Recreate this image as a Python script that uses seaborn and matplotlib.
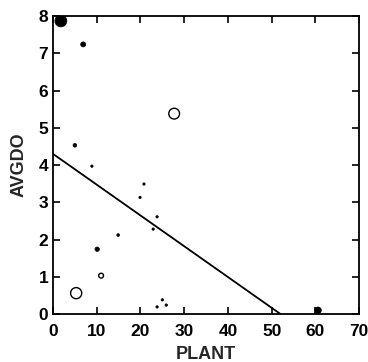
import matplotlib
matplotlib.use("Agg")
import matplotlib.pyplot as plt
import seaborn as sns
import pandas as pd
import numpy as np

sns.set_style("ticks")
plt.rcParams['font.family'] = ['Liberation Sans', 'DejaVu Sans']

# data
plant = [1.8, 6.9, 27.7, 5.0, 8.9, 20.8, 19.9, 23.8, 22.9, 14.9, 10.1, 11.0, 5.3, 23.8, 25.0, 25.9, 60.6]
avgdo = [7.87, 7.24, 5.38, 4.53, 3.97, 3.49, 3.13, 2.61, 2.28, 2.12, 1.74, 1.03, 0.56, 0.19, 0.38, 0.24, 0.10]
weight = [74, 13, 60, 7, 3, 3, 3, 3, 3, 4, 10, 12, 64, 3, 3, 3, 22]
filled = [True, True, False, True, True, True, True, True, True, True, True, False, False, True, True, True, True]

line_x = [0, 52]
line_y = [4.3, 0.0]

xticks = [0, 10, 20, 30, 40, 50, 60, 70]
yticks = [0, 1, 2, 3, 4, 5, 6, 7, 8]

df = pd.DataFrame({"PLANT": plant, "AVGDO": avgdo, "w": weight, "filled": filled})

fig = plt.figure(figsize=(3.68, 3.62), dpi=100)
ax = fig.add_axes([0.144, 0.1326, 0.832, 0.823])

sub_f = df[df.filled]
sub_o = df[~df.filled]
ax.scatter(sub_f.PLANT, sub_f.AVGDO, s=sub_f.w, c="black", edgecolors="black", linewidths=0.5, zorder=3)
ax.scatter(sub_o.PLANT, sub_o.AVGDO, s=sub_o.w, facecolors="white", edgecolors="black", linewidths=1.0, zorder=3)
sns.lineplot(x=line_x, y=line_y, ax=ax, color="black", linewidth=1.3)

ax.set_xlim(0, 70)
ax.set_ylim(0, 8)
ax.set_xticks(xticks)
ax.set_yticks(yticks)
ax.tick_params(direction="in", length=5, width=1.2, top=True, right=True, labelsize=12.5, colors="black")
ax.tick_params(axis="x", pad=7)
ax.tick_params(axis="y", pad=3.5)
for lab in ax.get_xticklabels() + ax.get_yticklabels():
    lab.set_fontweight("bold")
for sp in ax.spines.values():
    sp.set_visible(True)
    sp.set_linewidth(1.3)
    sp.set_color("black")
ax.set_xlabel("PLANT", fontsize=13, fontweight="bold", labelpad=5)
ax.set_ylabel("AVGDO", fontsize=13, fontweight="bold", labelpad=8)

fig.savefig("out.png", dpi=100)
